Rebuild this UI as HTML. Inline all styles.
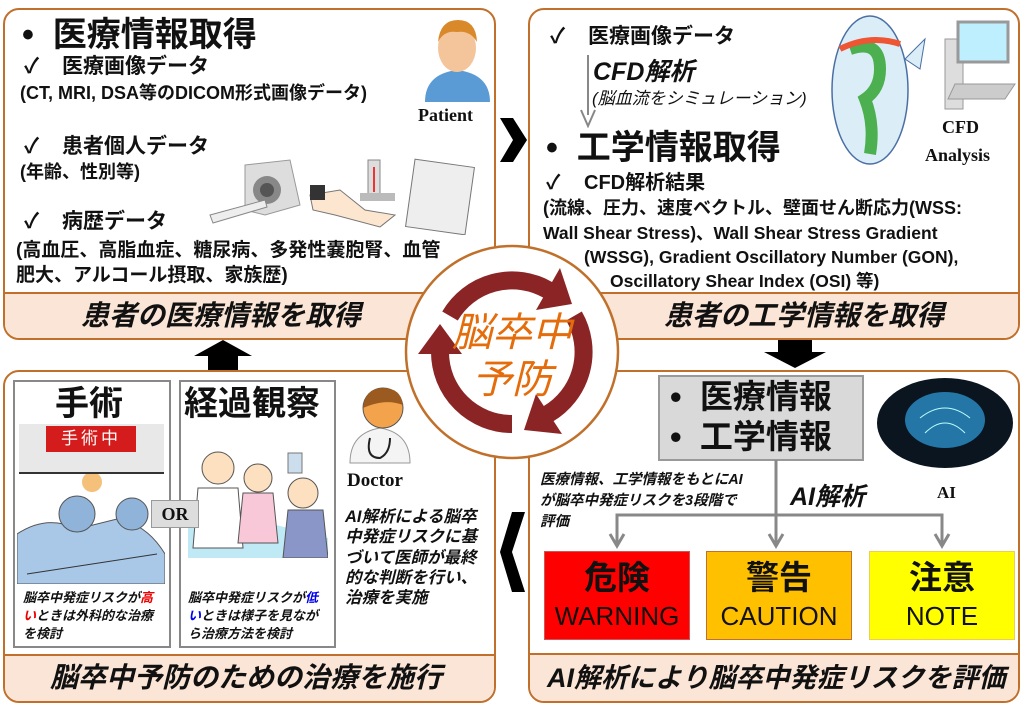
<!DOCTYPE html>
<html><head><meta charset="utf-8"><style>
*{margin:0;padding:0;box-sizing:border-box}
body{width:1024px;height:713px;background:#fff;position:relative;overflow:hidden;font-family:"Liberation Sans","Noto Sans CJK JP",sans-serif;color:#111}
.box{position:absolute;border:2px solid #c0702a;border-radius:16px;background:#fff;overflow:hidden}
.band{position:absolute;left:0;right:0;bottom:0;background:#fbe5d6;border-top:2px solid #c0702a;font-style:italic;font-weight:bold;font-size:28px;text-align:left}
.t{position:absolute;white-space:nowrap}
.b{font-weight:bold}
.i{font-style:italic}
.ser{font-family:"Liberation Serif",serif;font-weight:bold}
.ck{display:inline-block;width:38px}
</style></head><body>

<!-- Top-left -->
<div class="box" style="left:3px;top:8px;width:493px;height:332px">
 <div class="band" style="height:46px;line-height:44px;padding-left:76px">患者の医療情報を取得</div>
</div>
<div class="t b" style="left:22px;top:15px;font-size:34px;line-height:40px">•&nbsp;&nbsp;医療情報取得</div>
<div class="t b" style="left:24px;top:54px;font-size:21px;line-height:26px"><span class="ck">✓</span>医療画像データ</div>
<div class="t b" style="left:20px;top:82px;font-size:18px;line-height:22px">(CT, MRI, DSA等のDICOM形式画像データ)</div>
<div class="t b" style="left:24px;top:134px;font-size:21px;line-height:26px"><span class="ck">✓</span>患者個人データ</div>
<div class="t b" style="left:20px;top:161px;font-size:18px;line-height:22px">(年齢、性別等)</div>
<div class="t b" style="left:24px;top:209px;font-size:21px;line-height:26px"><span class="ck">✓</span>病歴データ</div>
<div class="t b" style="left:16px;top:239px;font-size:19px;line-height:24px">(高血圧、高脂血症、糖尿病、多発性嚢胞腎、血管</div>
<div class="t b" style="left:16px;top:264px;font-size:19px;line-height:24px">肥大、アルコール摂取、家族歴)</div>
<div class="t ser" style="left:418px;top:105px;font-size:18px">Patient</div>
<svg style="position:absolute;left:420px;top:12px" width="75" height="92">
 <path d="M5 90 Q5 62 37 58 Q70 62 70 90Z" fill="#5b9bd5"/>
 <ellipse cx="37" cy="36" rx="19" ry="24" fill="#f4c49a"/>
 <path d="M18 30 Q20 8 38 8 Q56 8 57 30 Q50 18 37 20 Q24 18 18 30Z" fill="#d9892a"/>
</svg>
<svg style="position:absolute;left:205px;top:155px" width="280" height="80">
 <path d="M40 10 L85 5 L95 50 L60 60 L40 55Z" fill="#ddd" stroke="#999"/>
 <circle cx="62" cy="35" r="14" fill="#888"/><circle cx="62" cy="35" r="7" fill="#555"/>
 <path d="M5 60 L60 45 L62 52 L8 68Z" fill="#eee" stroke="#888"/>
 <path d="M105 40 L135 35 L160 55 L190 60 L175 72 L130 60 L108 55Z" fill="#fde6cf" stroke="#777"/>
 <rect x="105" y="30" width="15" height="15" fill="#333"/>
 <rect x="163" y="5" width="12" height="35" fill="#ddd" stroke="#888"/><rect x="168" y="12" width="2" height="25" fill="#e33"/>
 <rect x="155" y="38" width="35" height="8" fill="#bbb"/>
 <rect x="205" y="8" width="60" height="68" fill="#eee" stroke="#777" transform="rotate(8 235 42)"/>
</svg>

<!-- Top-right -->
<div class="box" style="left:528px;top:8px;width:492px;height:332px">
 <div class="band" style="height:46px;line-height:44px;padding-left:134px">患者の工学情報を取得</div>
</div>
<div class="t b" style="left:550px;top:24px;font-size:21px;line-height:26px"><span class="ck">✓</span>医療画像データ</div>
<div style="position:absolute;left:587px;top:55px;width:2px;height:60px;background:#888"></div>
<svg style="position:absolute;left:580px;top:108px" width="16" height="20"><path d="M1 2 L8 18 L15 2" fill="none" stroke="#888" stroke-width="2"/></svg>
<div class="t b i" style="left:593px;top:57px;font-size:25px;line-height:30px">CFD解析</div>
<div class="t i" style="left:592px;top:88px;font-size:17px;line-height:22px">(脳血流をシミュレーション)</div>
<div class="t b" style="left:546px;top:128px;font-size:34px;line-height:40px">•&nbsp;&nbsp;工学情報取得</div>
<div class="t b" style="left:546px;top:171px;font-size:20px;line-height:24px"><span class="ck">✓</span>CFD解析結果</div>
<div class="t b" style="left:543px;top:197px;font-size:18px;line-height:22px">(流線、圧力、速度ベクトル、壁面せん断応力(WSS:</div>
<div class="t b" style="left:543px;top:222px;font-size:17.5px;line-height:22px">Wall Shear Stress)、Wall Shear Stress Gradient</div>
<div class="t b" style="left:584px;top:246px;font-size:17.5px;line-height:22px">(WSSG), Gradient Oscillatory Number (GON),</div>
<div class="t b" style="left:610px;top:270px;font-size:17.5px;line-height:22px">Oscillatory Shear Index (OSI) 等)</div>
<svg style="position:absolute;left:820px;top:14px" width="200" height="155">
 <ellipse cx="50" cy="76" rx="38" ry="74" fill="#dbeef7" stroke="#4a6fa5" stroke-width="1.5"/>
 <path d="M85 45 L105 25 L100 55Z" fill="#dbeef7" stroke="#4a6fa5"/>
 <path d="M30 35 Q60 25 60 55 Q60 75 45 85 Q55 110 50 140" fill="none" stroke="#4caf50" stroke-width="12"/>
 <path d="M20 35 Q50 20 80 30" fill="none" stroke="#e53" stroke-width="6"/>
 <rect x="125" y="25" width="18" height="70" fill="#ddd" stroke="#999"/>
 <rect x="138" y="8" width="50" height="40" fill="#bdefff" stroke="#999" stroke-width="3"/>
 <path d="M135 70 L195 70 L185 85 L128 85Z" fill="#ccc" stroke="#999"/>
</svg>
<div class="t ser" style="left:942px;top:117px;font-size:18px">CFD</div>
<div class="t ser" style="left:925px;top:145px;font-size:18px">Analysis</div>

<!-- Bottom-left -->
<div class="box" style="left:3px;top:370px;width:493px;height:333px">
 <div class="band" style="height:47px;line-height:44px;padding-left:45px">脳卒中予防のための治療を施行</div>
</div>
<div style="position:absolute;left:13px;top:380px;width:158px;height:268px;border:2px solid #888;background:#fff"></div>
<div style="position:absolute;left:179px;top:380px;width:157px;height:268px;border:2px solid #888;background:#fff"></div>
<div class="t b" style="left:55px;top:384px;font-size:34px;line-height:40px">手術</div>
<div class="t b" style="left:184px;top:384px;font-size:34px;line-height:40px">経過観察</div>
<div style="position:absolute;left:19px;top:424px;width:145px;height:50px;background:#e8e8e8;border-bottom:2px solid #333"></div>
<div class="t" style="left:46px;top:426px;width:90px;height:26px;background:#d51c1c;color:#fff;font-size:17px;text-align:center;line-height:26px;letter-spacing:3px">手術中</div>
<svg style="position:absolute;left:17px;top:474px" width="148" height="110">
 <rect x="0" y="0" width="148" height="110" fill="#fff"/>
 <circle cx="75" cy="8" r="10" fill="#f5c07a"/>
 <path d="M0 60 Q30 40 60 55 L100 45 Q130 50 148 80 L148 110 L0 110Z" fill="#a9c8e8" stroke="#555"/>
 <circle cx="60" cy="40" r="18" fill="#8fb3d9" stroke="#555"/><circle cx="115" cy="40" r="16" fill="#8fb3d9" stroke="#555"/>
 <path d="M10 100 L140 80" stroke="#333"/>
</svg>
<svg style="position:absolute;left:188px;top:448px" width="140" height="110">
 <path d="M0 80 Q40 60 80 75 L140 90 L140 110 L0 110Z" fill="#bfe9f5"/>
 <circle cx="30" cy="20" r="16" fill="#fde0c0" stroke="#555"/><path d="M10 40 L50 40 L55 100 L5 100Z" fill="#fff" stroke="#555"/>
 <circle cx="70" cy="30" r="14" fill="#fde0c0" stroke="#555"/><path d="M55 45 L85 45 L90 95 L50 95Z" fill="#f8c8d8" stroke="#555"/>
 <circle cx="115" cy="45" r="15" fill="#fde0c0" stroke="#555"/><path d="M100 62 L135 62 L140 110 L95 110Z" fill="#8a95c8" stroke="#555"/>
 <rect x="100" y="5" width="14" height="20" fill="#cde" stroke="#777"/>
</svg>
<div class="t b" style="left:151px;top:500px;width:48px;height:28px;background:#ddd;border:1px solid #999;font-family:'Liberation Serif',serif;font-size:18px;text-align:center;line-height:26px">OR</div>
<div class="t b i" style="left:23px;top:589px;font-size:13px;line-height:18px">脳卒中発症リスクが<span style="color:#e00">高</span><br><span style="color:#e00">い</span>ときは外科的な治療<br>を検討</div>
<div class="t b i" style="left:188px;top:589px;font-size:13px;line-height:18px">脳卒中発症リスクが<span style="color:#00e">低</span><br><span style="color:#00e">い</span>ときは様子を見なが<br>ら治療方法を検討</div>
<svg style="position:absolute;left:345px;top:383px" width="70" height="82">
 <path d="M5 80 Q5 50 35 45 Q65 50 65 80Z" fill="#f4f4f4" stroke="#999"/>
 <circle cx="38" cy="25" r="20" fill="#f4a34d" stroke="#555"/>
 <path d="M18 25 Q20 5 38 5 Q56 5 58 22 Q40 15 18 25Z" fill="#9a5a20"/>
 <path d="M25 55 Q20 75 35 75 Q45 70 45 55" fill="none" stroke="#222" stroke-width="2"/>
</svg>
<div class="t ser" style="left:347px;top:470px;font-size:19px">Doctor</div>
<div class="t b i" style="left:345px;top:507px;font-size:16.5px;line-height:20.3px">AI解析による脳卒<br>中発症リスクに基<br>づいて医師が最終<br>的な判断を行い、<br>治療を実施</div>

<!-- Bottom-right -->
<div class="box" style="left:528px;top:370px;width:492px;height:333px">
 <div class="band" style="height:48px;line-height:46px;padding-left:17px;font-size:27px">AI解析により脳卒中発症リスクを評価</div>
</div>
<div style="position:absolute;left:658px;top:375px;width:206px;height:86px;background:#d9d9d9;border:2px solid #999"></div>
<div class="t b" style="left:670px;top:377px;font-size:33px;line-height:40px">•&nbsp;&nbsp;医療情報<br>•&nbsp;&nbsp;工学情報</div>
<svg style="position:absolute;left:875px;top:378px" width="140" height="100">
 <ellipse cx="70" cy="45" rx="68" ry="45" fill="#0a1520"/>
 <ellipse cx="70" cy="42" rx="40" ry="28" fill="#2a8fc8" opacity=".8"/>
 <path d="M45 40 Q70 20 95 40 M50 55 Q70 35 90 55" stroke="#bff" fill="none"/>
</svg>
<div class="t ser" style="left:937px;top:483px;font-size:17px">AI</div>
<svg style="position:absolute;left:600px;top:460px" width="360" height="90">
 <g stroke="#888" stroke-width="3" fill="none">
  <path d="M176 0 V84 M17 84 V55 H342 V84"/>
  <path d="M10 74 L17 86 L24 74 M169 74 L176 86 L183 74 M335 74 L342 86 L349 74"/>
 </g>
</svg>
<div class="t b i" style="left:540px;top:470px;font-size:14.5px;line-height:21px;text-shadow:0 0 3px #fff">医療情報、工学情報をもとにAI<br>が脳卒中発症リスクを3段階で<br>評価</div>
<div class="t b i" style="left:790px;top:482px;font-size:25px;line-height:30px">AI解析</div>
<div class="t" style="left:544px;top:551px;width:146px;height:89px;background:#ff0000;border:1px solid #c55;text-align:center;font-size:26px;line-height:36px;padding-top:8px"><b style="font-size:33px">危険</b><br>WARNING</div>
<div class="t" style="left:706px;top:551px;width:146px;height:89px;background:#ffc000;border:1px solid #c07030;text-align:center;font-size:26px;line-height:36px;padding-top:8px"><b style="font-size:33px">警告</b><br>CAUTION</div>
<div class="t" style="left:869px;top:551px;width:146px;height:89px;background:#ffff00;border:1px solid #ec5;text-align:center;font-size:26px;line-height:36px;padding-top:8px"><b style="font-size:33px">注意</b><br>NOTE</div>

<!-- black arrows -->
<svg style="position:absolute;left:0;top:0" width="1024" height="713">
 <path d="M500 118 L513 118 L527 140 L513 162 L500 162 L513 140Z" fill="#000"/>
 <path d="M778 340 L812 340 L812 352 L826 352 L795 368 L764 352 L778 352Z" fill="#000"/>
 <path d="M525 512 L512 512 L500 552 L512 592 L525 592 L512 552Z" fill="#000"/>
 <path d="M208 370 L238 370 L238 356 L252 356 L223 340 L194 356 L208 356Z" fill="#000"/>
</svg>

<!-- center circle -->
<svg style="position:absolute;left:400px;top:240px" width="225" height="225">
 <circle cx="112" cy="112" r="106" fill="#fff" stroke="#c0702a" stroke-width="2.5"/>
 <g stroke="#8b2525" stroke-width="18" fill="none">
  <path d="M50 76 A72 72 0 0 1 148 50"/>
  <path d="M174 76 A72 72 0 0 1 148 174"/>
  <path d="M112 184 A72 72 0 0 1 40 112"/>
 </g>
 <g fill="#8b2525">
  <path d="M172 64 L136 70 L160 28Z"/>
  <path d="M124 190 L136 154 L162 194Z"/>
  <path d="M40 84 L18 114 L62 114Z"/>
 </g>
 <text x="112" y="106" text-anchor="middle" font-size="40" font-style="italic" fill="#e46c0a" font-family="Liberation Sans,Noto Sans CJK JP,sans-serif">脳卒中</text>
 <text x="112" y="153" text-anchor="middle" font-size="40" font-style="italic" fill="#e46c0a" font-family="Liberation Sans,Noto Sans CJK JP,sans-serif">予防</text>
</svg>
</body></html>
